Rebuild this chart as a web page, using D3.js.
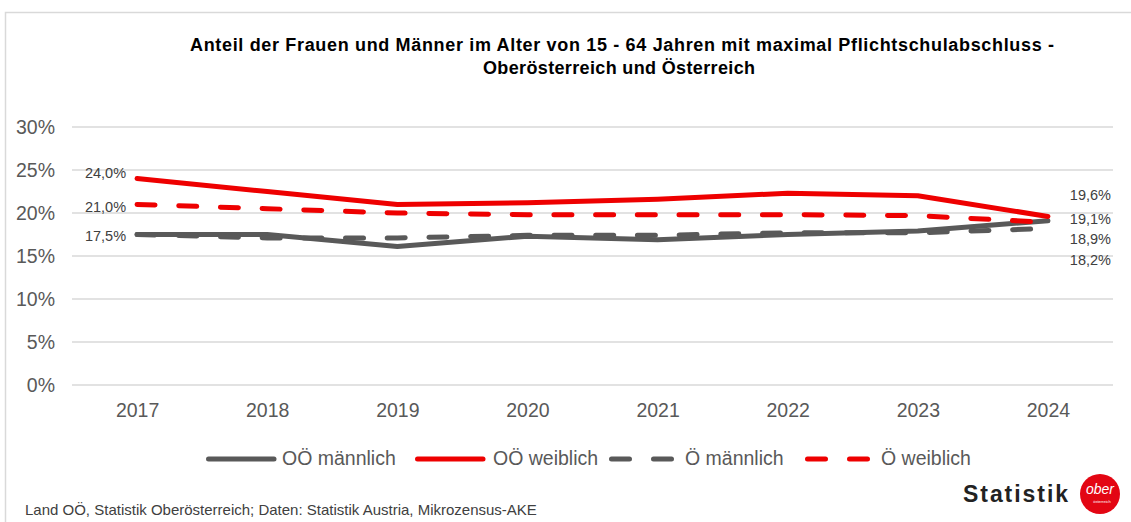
<!DOCTYPE html>
<html>
<head>
<meta charset="utf-8">
<script src="https://cdn.jsdelivr.net/npm/d3@7"></script>
<style>
  body { margin: 0; background: #fff; }
  svg { display: block; font-family: "Liberation Sans", Arial, sans-serif; }
</style>
</head>
<body>
<svg width="1131" height="522"></svg>
<script>
const years = ["2017", "2018", "2019", "2020", "2021", "2022", "2023", "2024"];
const ooMaennlich = [17.5, 17.5, 16.1, 17.3, 16.9, 17.5, 17.9, 19.1];
const ooWeiblich = [24.0, 22.5, 21.0, 21.2, 21.6, 22.3, 22.0, 19.6];
const oeMaennlich = [17.5, 17.1, 17.1, 17.4, 17.4, 17.7, 17.7, 18.2];
const oeWeiblich = [21.0, 20.5, 20.0, 19.8, 19.8, 19.8, 19.7, 18.9];
const yTicks = [0, 5, 10, 15, 20, 25, 30];

const series = [
  { name: "OÖ männlich", values: ooMaennlich, color: "#595959", dashed: false },
  { name: "OÖ weiblich", values: ooWeiblich, color: "#EE0000", dashed: false },
  { name: "Ö männlich", values: oeMaennlich, color: "#595959", dashed: true },
  { name: "Ö weiblich", values: oeWeiblich, color: "#EE0000", dashed: true }
];

const svg = d3.select("svg");
const fmt = v => d3.format(".1f")(v).replace(".", ",") + "%";

// Rahmen
svg.append("rect")
  .attr("x", 5.5).attr("y", 12.5)
  .attr("width", 1140).attr("height", 520)
  .attr("fill", "none").attr("stroke", "#D9D9D9").attr("stroke-width", 1.5);

// Titel
const title = svg.append("text")
  .attr("text-anchor", "middle")
  .attr("font-size", 18).attr("font-weight", "bold").attr("fill", "#000");
title.append("tspan").attr("x", 622).attr("y", 51)
  .attr("textLength", 864).attr("lengthAdjust", "spacing")
  .text("Anteil der Frauen und Männer im Alter von 15 - 64 Jahren mit maximal Pflichtschulabschluss -");
title.append("tspan").attr("x", 619).attr("y", 74)
  .attr("textLength", 272).attr("lengthAdjust", "spacing")
  .text("Oberösterreich und Österreich");

const x = d3.scalePoint().domain(years).range([72, 1113]).padding(0.5);
const y = d3.scaleLinear().domain([0, 30]).range([385, 127]);

// Gitterlinien
svg.append("g")
  .selectAll("line")
  .data(yTicks)
  .join("line")
  .attr("x1", 72).attr("x2", 1113)
  .attr("y1", d => y(d)).attr("y2", d => y(d))
  .attr("stroke", "#D9D9D9").attr("stroke-width", 1.5);

// Y-Achse
const yAxis = svg.append("g")
  .attr("transform", "translate(55,0)")
  .call(d3.axisLeft(y).tickValues(yTicks).tickFormat(d => d + "%").tickSize(0).tickPadding(0));
yAxis.select(".domain").remove();
yAxis.selectAll("text").attr("font-size", 19.5).attr("fill", "#595959")
  .attr("font-family", "'Liberation Sans', Arial, sans-serif");

// X-Achse
const xAxis = svg.append("g")
  .attr("transform", "translate(0,403)")
  .call(d3.axisBottom(x).tickSize(0).tickPadding(0));
xAxis.select(".domain").remove();
xAxis.selectAll("text").attr("font-size", 19.5).attr("fill", "#595959")
  .attr("font-family", "'Liberation Sans', Arial, sans-serif");

// Linien
const line = d3.line()
  .x((d, i) => x(years[i]))
  .y(d => y(d));

svg.append("g")
  .selectAll("path")
  .data(series)
  .join("path")
  .attr("d", d => line(d.values))
  .attr("fill", "none")
  .attr("stroke", d => d.color)
  .attr("stroke-width", 5)
  .attr("stroke-linecap", "round")
  .attr("stroke-linejoin", "round")
  .attr("stroke-dasharray", d => d.dashed ? "18 23.7" : null);

// Datenbeschriftungen (erster und letzter Wert)
const firstLabels = [
  { s: 1, dy: -4 },
  { s: 3, dy: 4 },
  { s: 0, dy: 3 }
];
const lastLabels = [
  { s: 1, dy: -20 },
  { s: 0, dy: -1 },
  { s: 3, dy: 18 },
  { s: 2, dy: 33 }
];
const labels = svg.append("g")
  .attr("font-size", 14.5).attr("fill", "#404040");
labels.selectAll("text.first")
  .data(firstLabels)
  .join("text")
  .attr("class", "first")
  .attr("x", x(years[0]) - 11)
  .attr("y", d => y(series[d.s].values[0]) + d.dy)
  .attr("text-anchor", "end")
  .attr("dominant-baseline", "middle")
  .text(d => fmt(series[d.s].values[0]));
labels.selectAll("text.last")
  .data(lastLabels)
  .join("text")
  .attr("class", "last")
  .attr("x", x(years[7]) + 63)
  .attr("y", d => y(series[d.s].values[7]) + d.dy)
  .attr("text-anchor", "end")
  .attr("dominant-baseline", "middle")
  .text(d => fmt(series[d.s].values[7]));

// Legende
const legendPos = [
  { lx: 206, tx: 282 },
  { lx: 415, tx: 493 },
  { lx: 609, tx: 685 },
  { lx: 805, tx: 881 }
];
const legend = svg.append("g").selectAll("g")
  .data(series)
  .join("g")
  .attr("transform", "translate(0,459)");
legend.append("line")
  .attr("x1", (d, i) => legendPos[i].lx + 2.5)
  .attr("x2", (d, i) => legendPos[i].lx + 68)
  .attr("y1", 0).attr("y2", 0)
  .attr("stroke", d => d.color)
  .attr("stroke-width", 5)
  .attr("stroke-linecap", "round")
  .attr("stroke-dasharray", d => d.dashed ? "18 24" : null);
legend.append("text")
  .attr("x", (d, i) => legendPos[i].tx)
  .attr("y", 1)
  .attr("dominant-baseline", "middle")
  .attr("font-size", 19.5).attr("fill", "#595959")
  .text(d => d.name);

// Quelle
svg.append("text")
  .attr("x", 25).attr("y", 515)
  .attr("font-size", 15).attr("fill", "#404040")
  .text("Land OÖ, Statistik Oberösterreich; Daten: Statistik Austria, Mikrozensus-AKE");

// Logo
svg.append("text")
  .attr("x", 963).attr("y", 502)
  .attr("font-size", 23).attr("font-weight", "bold").attr("fill", "#222")
  .attr("textLength", 105).attr("lengthAdjust", "spacing")
  .text("Statistik");
svg.append("circle")
  .attr("cx", 1100).attr("cy", 494).attr("r", 20)
  .attr("fill", "#E30613");
svg.append("text")
  .attr("x", 1100).attr("y", 494)
  .attr("text-anchor", "middle")
  .attr("font-size", 14).attr("font-style", "italic").attr("fill", "#fff")
  .text("ober");
svg.append("text")
  .attr("x", 1102).attr("y", 503)
  .attr("text-anchor", "middle")
  .attr("font-size", 4).attr("fill", "#fff")
  .text("österreich");
</script>
</body>
</html>
